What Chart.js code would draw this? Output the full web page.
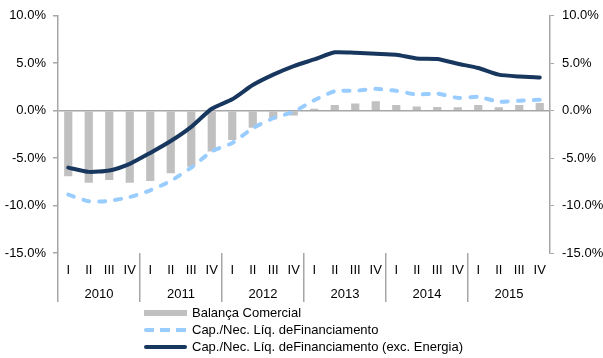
<!DOCTYPE html>
<html>
<head>
<meta charset="utf-8">
<script src="https://cdn.jsdelivr.net/npm/chart.js@4/dist/chart.umd.min.js"></script>
<style>
  html, body { margin: 0; padding: 0; background: #fff; }
  #wrap { position: relative; width: 603px; height: 358px; }
  #legend { position: absolute; left: 144px; top: 304px; font: 13px "Liberation Sans", Arial, sans-serif; color: #000; }
  .item { display: flex; align-items: center; height: 17px; }
  .swatch { width: 43px; margin-right: 5px; }
</style>
</head>
<body>
<div id="wrap">
  <canvas id="chart" width="603" height="358"></canvas>
  <div id="legend"></div>
</div>
<script>
// Dados (% do PIB), trimestral 2010-2015
const quarters = ['I', 'II', 'III', 'IV', 'I', 'II', 'III', 'IV', 'I', 'II', 'III', 'IV',
                  'I', 'II', 'III', 'IV', 'I', 'II', 'III', 'IV', 'I', 'II', 'III', 'IV'];
const years = ['2010', '2011', '2012', '2013', '2014', '2015'];

const balancaComercial = [-6.9, -7.6, -7.3, -7.6, -7.4, -6.6, -5.9, -4.3, -3.1, -1.8, -0.9, -0.5,
                          0.2, 0.6, 0.75, 1.0, 0.6, 0.45, 0.4, 0.35, 0.6, 0.35, 0.6, 0.8];
const capNecFin = [-8.85, -9.55, -9.5, -9.1, -8.4, -7.4, -6.0, -4.3, -3.4, -1.85, -0.8, -0.1,
                   1.1, 2.05, 2.1, 2.3, 2.1, 1.7, 1.8, 1.35, 1.45, 0.95, 1.05, 1.15];
const capNecFinExcEnergia = [-6.0, -6.45, -6.3, -5.6, -4.45, -3.2, -1.7, 0.2, 1.2, 2.7, 3.8, 4.7,
                             5.4, 6.15, 6.1, 6.0, 5.9, 5.5, 5.45, 4.95, 4.5, 3.8, 3.6, 3.5];

const yMin = -15, yMax = 10, yStep = 5;

const axisGray = '#a6a6a6';
const fontSpec = { family: '"Liberation Sans", Arial, sans-serif', size: 13 };

// Legenda em HTML (uma linha por série)
function buildLegend(datasets) {
    const legend = document.getElementById('legend');
    legend.innerHTML = '';
    datasets.forEach(ds => {
        const item = document.createElement('div');
        item.className = 'item';
        const sw = document.createElement('div');
        sw.className = 'swatch';
        if (ds.type === 'bar') {
            sw.style.height = '6px';
            sw.style.background = ds.backgroundColor;
        } else if (ds.borderDash && ds.borderDash.length) {
            sw.style.height = '4px';
            sw.style.borderRadius = '2px';
            sw.style.background = `repeating-linear-gradient(90deg, ${ds.borderColor} 0 10px, transparent 10px 16px)`;
        } else {
            sw.style.height = '4px';
            sw.style.borderRadius = '2px';
            sw.style.background = ds.borderColor;
        }
        const txt = document.createElement('span');
        txt.textContent = ds.label;
        item.appendChild(sw);
        item.appendChild(txt);
        legend.appendChild(item);
    });
}

const ctx = document.getElementById('chart').getContext('2d');
const chart = new Chart(ctx, {
    data: {
        labels: quarters,
        datasets: [
            {
                type: 'line',
                label: 'Cap./Nec. Líq. deFinanciamento (exc. Energia)',
                data: capNecFinExcEnergia,
                borderColor: '#17375e',
                borderWidth: 4,
                pointRadius: 0,
                tension: 0.2,
                borderCapStyle: 'round',
                order: 1
            },
            {
                type: 'line',
                label: 'Cap./Nec. Líq. deFinanciamento',
                data: capNecFin,
                borderColor: '#99ccff',
                borderWidth: 4,
                borderDash: [6, 10],
                borderCapStyle: 'round',
                pointRadius: 0,
                tension: 0.2,
                order: 2
            },
            {
                type: 'bar',
                label: 'Balança Comercial',
                data: balancaComercial,
                backgroundColor: '#c0c0c0',
                barPercentage: 0.8,
                categoryPercentage: 0.5,
                order: 3
            }
        ]
    },
    options: {
        responsive: false,
        animation: false,
        events: [],
        layout: { padding: { left: 0, right: 0, top: 5, bottom: 55 } },
        plugins: {
            legend: { display: false },
            tooltip: { enabled: false }
        },
        scales: {
            x: {
                position: 'bottom',
                offset: true,
                border: { display: false },
                grid: {
                    offset: true,
                    drawOnChartArea: false,
                    tickLength: 49,
                    lineWidth: 1.5,
                    color: c => (c.index % 4 === 0 ? axisGray : 'transparent')
                },
                ticks: {
                    autoSkip: false,
                    maxRotation: 0,
                    padding: -39,
                    color: '#000',
                    font: fontSpec
                },
                afterFit: s => { s.height = 24; }
            },
            x2: {
                type: 'category',
                position: 'bottom',
                labels: years,
                offset: true,
                border: { display: false },
                grid: { display: false, drawTicks: false },
                ticks: { padding: 10, color: '#000', font: fontSpec },
                afterFit: s => { s.height = 26; }
            },
            y: {
                position: 'left',
                min: yMin,
                max: yMax,
                border: { display: true, color: axisGray, width: 1.5 },
                grid: {
                    tickLength: 5,
                    tickColor: axisGray,
                    lineWidth: 1.5,
                    color: c => (c.tick && c.tick.value === 0 ? axisGray : 'transparent')
                },
                ticks: {
                    stepSize: yStep,
                    padding: 7,
                    color: '#000',
                    font: fontSpec,
                    callback: v => v.toFixed(1) + '%'
                },
                afterFit: s => { s.width = 58; }
            },
            y2: {
                position: 'right',
                min: yMin,
                max: yMax,
                border: { display: true, color: axisGray, width: 1.5 },
                grid: { drawOnChartArea: false, tickLength: 4, tickColor: axisGray },
                ticks: {
                    stepSize: yStep,
                    padding: 8,
                    color: '#000',
                    font: fontSpec,
                    callback: v => v.toFixed(1) + '%'
                },
                afterFit: s => { s.width = 53; }
            }
        }
    }
});

// Ordem da legenda: barras, tracejada, contínua
buildLegend(chart.data.datasets.slice().reverse());
</script>
</body>
</html>
